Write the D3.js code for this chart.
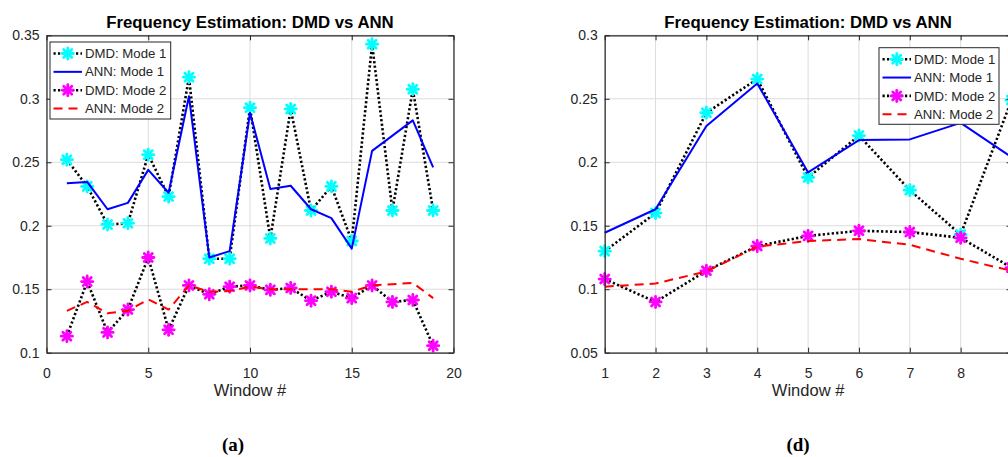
<!DOCTYPE html>
<html>
<head>
<meta charset="utf-8">
<script src="https://cdn.jsdelivr.net/npm/d3@7"></script>
<style>
  html, body { margin: 0; padding: 0; background: #fff; }
  svg { display: block; }
  text { font-family: "Liberation Sans", Arial, sans-serif; }
</style>
</head>
<body>
<svg id="chart" width="1008" height="457"></svg>
<script>
// ---------- Data: panel (a) ----------
const windowsA = [1,2,3,4,5,6,7,8,9,10,11,12,13,14,15,16,17,18,19];
const dmdMode1A = [0.252,0.231,0.201,0.202,0.256,0.223,0.317,0.174,0.174,0.293,0.190,0.292,0.212,0.231,0.188,0.343,0.212,0.3075,0.212];
const annMode1A = [0.2335,0.2345,0.213,0.218,0.244,0.226,0.302,0.175,0.180,0.289,0.229,0.2315,0.213,0.206,0.182,0.259,0.271,0.283,0.246];
const dmdMode2A = [0.113,0.156,0.116,0.134,0.175,0.118,0.153,0.146,0.152,0.153,0.1495,0.151,0.141,0.148,0.143,0.153,0.140,0.1415,0.1055];
const annMode2A = [0.133,0.140,0.131,0.133,0.142,0.134,0.153,0.148,0.1485,0.152,0.150,0.150,0.150,0.150,0.148,0.153,0.154,0.155,0.143];
const xTicksA = [0,5,10,15,20];
const xTickLabelsA = ["0","5","10","15","20"];
const yTicksA = [0.1,0.15,0.2,0.25,0.3,0.35];
const yTickLabelsA = ["0.1","0.15","0.2","0.25","0.3","0.35"];

// ---------- Data: panel (d) ----------
const windowsD = [1,2,3,4,5,6,7,8,9];
const dmdMode1D = [0.130,0.160,0.239,0.2655,0.188,0.221,0.178,0.143,0.249];
const annMode1D = [0.1445,0.163,0.2285,0.262,0.192,0.2175,0.218,0.231,0.204];
const dmdMode2D = [0.108,0.090,0.1145,0.134,0.142,0.146,0.145,0.1405,0.117];
const annMode2D = [0.102,0.1045,0.114,0.1335,0.138,0.1395,0.135,0.124,0.1145];
const xTicksD = [1,2,3,4,5,6,7,8,9];
// the label of tick 9 lies beyond the cropped edge of the reference picture
const xTickLabelsD = ["1","2","3","4","5","6","7","8",""];
const yTicksD = [0.05,0.1,0.15,0.2,0.25,0.3];
const yTickLabelsD = ["0.05","0.1","0.15","0.2","0.25","0.3"];

const seriesNames = ["DMD: Mode 1","ANN: Mode 1","DMD: Mode 2","ANN: Mode 2"];
const titleText = "Frequency Estimation: DMD vs ANN";
const xLabelText = "Window #";

const svg = d3.select("#chart");
svg.append("rect").attr("width",1008).attr("height",457).attr("fill","#fff");

const AX = "#262626";

const styles = [
  {stroke:"#000", width:2.6, dash:"2.2,2.3", marker:"#00ffff"},
  {stroke:"#0000ff", width:2, dash:null, marker:null},
  {stroke:"#000", width:2.6, dash:"2.2,2.3", marker:"#ff00ff"},
  {stroke:"#ff0000", width:2, dash:"9,6", marker:null}
];

function asterisk(g, cx, cy, color) {
  const r = 5.6, d = r * 0.72;
  const segs = [[-r,0,r,0],[0,-r,0,r],[-d,-d,d,d],[-d,d,d,-d]];
  segs.forEach(s => {
    g.append("line")
      .attr("x1",cx+s[0]).attr("y1",cy+s[1]).attr("x2",cx+s[2]).attr("y2",cy+s[3])
      .attr("stroke",color).attr("stroke-width",2.8).attr("stroke-linecap","round");
  });
}

function panel(cfg) {
  const x = d3.scaleLinear().domain(cfg.xDomain).range([cfg.L, cfg.R]);
  const y = d3.scaleLinear().domain(cfg.yDomain).range([cfg.B, cfg.T]);
  const g = svg.append("g");

  // grid
  const grid = g.append("g");
  cfg.xTicks.forEach(t => grid.append("line")
    .attr("x1",x(t)).attr("x2",x(t)).attr("y1",cfg.T).attr("y2",cfg.B)
    .attr("stroke","#dcdcdc").attr("stroke-width",1));
  cfg.yTicks.forEach(t => grid.append("line")
    .attr("x1",cfg.L).attr("x2",cfg.R).attr("y1",y(t)).attr("y2",y(t))
    .attr("stroke","#dcdcdc").attr("stroke-width",1));

  // series
  const series = [cfg.s1, cfg.s2, cfg.s3, cfg.s4];
  series.forEach((vals, i) => {
    const st = styles[i];
    const pts = cfg.xs.map((xv, k) => [xv, vals[k]]);
    const line = d3.line().x(d => x(d[0])).y(d => y(d[1]));
    const p = g.append("path").attr("d", line(pts))
      .attr("fill","none").attr("stroke",st.stroke).attr("stroke-width",st.width)
      .attr("stroke-linejoin","round");
    if (st.dash) p.attr("stroke-dasharray", st.dash);
    if (st.marker) pts.forEach(d => asterisk(g, x(d[0]), y(d[1]), st.marker));
  });

  // axes
  const fmtX = (d) => cfg.xLabels[cfg.xTicks.indexOf(d)];
  const fmtY = (d) => cfg.yLabels[cfg.yTicks.indexOf(d)];
  const bottom = g.append("g").attr("transform",`translate(0,${cfg.B})`)
    .call(d3.axisBottom(x).tickValues(cfg.xTicks).tickSizeInner(-5).tickSizeOuter(0).tickPadding(15).tickFormat(fmtX));
  bottom.selectAll(".tick text").filter(function(){ return this.textContent === ""; }).remove();
  const top = g.append("g").attr("transform",`translate(0,${cfg.T})`)
    .call(d3.axisTop(x).tickValues(cfg.xTicks).tickSizeInner(-5).tickSizeOuter(0).tickFormat(""));
  top.selectAll(".tick text").remove();
  const left = g.append("g").attr("transform",`translate(${cfg.L},0)`)
    .call(d3.axisLeft(y).tickValues(cfg.yTicks).tickSizeInner(-5).tickSizeOuter(0).tickPadding(7).tickFormat(fmtY));
  const right = g.append("g").attr("transform",`translate(${cfg.R},0)`)
    .call(d3.axisRight(y).tickValues(cfg.yTicks).tickSizeInner(-5).tickSizeOuter(0).tickFormat(""));
  right.selectAll(".tick text").remove();
  [bottom, top, left, right].forEach(a => {
    a.selectAll("path").attr("stroke",AX).attr("stroke-width",1.2);
    a.selectAll("line").attr("stroke",AX).attr("stroke-width",1);
    a.selectAll("text").attr("fill",AX).style("font-size","14px")
      .style("font-family","'Liberation Sans', Arial, sans-serif");
  });

  // title
  const cx = (cfg.L + cfg.R) / 2;
  g.append("text").attr("x",cx).attr("y",28).attr("text-anchor","middle")
    .style("font-size","16.8px").style("font-weight","bold").attr("fill","#000").text(titleText);
  // x label
  g.append("text").attr("x",cx).attr("y",396).attr("text-anchor","middle")
    .style("font-size","16.5px").attr("fill",AX).text(xLabelText);
  // panel letter
  g.append("text").attr("x",cfg.letterX).attr("y",451).attr("text-anchor","middle")
    .style("font-family","'Liberation Serif', 'DejaVu Serif', serif")
    .style("font-size","19px").style("font-weight","bold").attr("fill","#000").text(cfg.letter);

  // legend
  const lg = g.append("g");
  lg.append("rect").attr("x",cfg.legX).attr("y",cfg.legY).attr("width",cfg.legW).attr("height",cfg.legH)
    .attr("fill","#fff").attr("stroke",AX).attr("stroke-width",1);
  seriesNames.forEach((name, i) => {
    const st = styles[i];
    const yy = cfg.legY + 11.5 + i * 18.35;
    const lx1 = cfg.legX + 3.5, lx2 = cfg.legX + 32;
    const l = lg.append("line").attr("x1",lx1).attr("x2",lx2).attr("y1",yy).attr("y2",yy)
      .attr("stroke",st.stroke).attr("stroke-width",st.width);
    if (st.dash) l.attr("stroke-dasharray", st.dash);
    if (st.marker) asterisk(lg, (lx1+lx2)/2, yy, st.marker);
    lg.append("text").attr("x",cfg.legX + 35).attr("y",yy + 4.6)
      .style("font-size","13.2px").attr("fill",AX).text(name);
  });
}

panel({
  L:46.5, R:453.5, T:35.3, B:352.7,
  xDomain:[0,20], yDomain:[0.1,0.35],
  xTicks:xTicksA, xLabels:xTickLabelsA, yTicks:yTicksA, yLabels:yTickLabelsA,
  xs:windowsA, s1:dmdMode1A, s2:annMode1A, s3:dmdMode2A, s4:annMode2A,
  legX:50, legY:42, legW:120.7, legH:77,
  letter:"(a)", letterX:233
});

panel({
  L:604.7, R:1011.5, T:35.3, B:352.7,
  xDomain:[1,9], yDomain:[0.05,0.3],
  xTicks:xTicksD, xLabels:xTickLabelsD, yTicks:yTicksD, yLabels:yTickLabelsD,
  xs:windowsD, s1:dmdMode1D, s2:annMode1D, s3:dmdMode2D, s4:annMode2D,
  legX:879, legY:47.7, legW:120, legH:76.6,
  letter:"(d)", letterX:798
});
</script>
</body>
</html>
